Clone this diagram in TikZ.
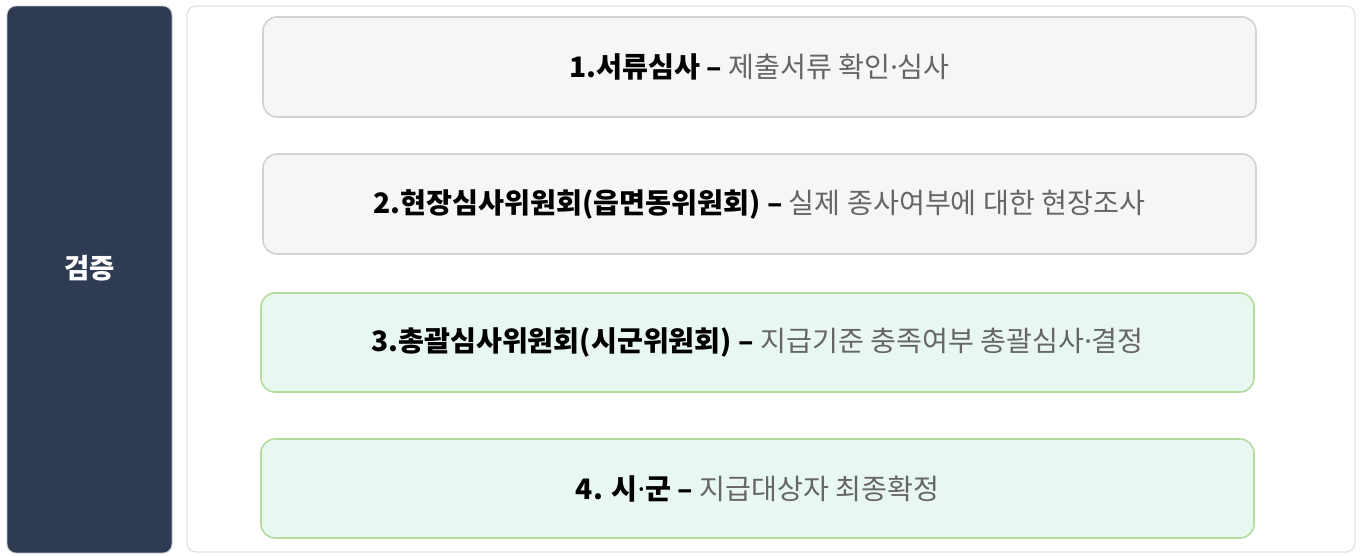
\documentclass[tikz,border=0pt]{standalone}
\usepackage{fontspec}
\newfontfamily\kr{Noto Sans CJK KR}
\newfontfamily\lat{Noto Sans}
\newcommand{\mdot}{{\lat ·}}
\definecolor{navy}{HTML}{2F3B52}
\definecolor{outerline}{HTML}{E2E2E2}
\definecolor{grayfill}{HTML}{F5F6F8}
\definecolor{grayline}{HTML}{D2D2D4}
\definecolor{greenfill}{HTML}{E8F7EF}
\definecolor{greenline}{HTML}{B3DC9E}
\definecolor{desc}{HTML}{666666}
\begin{document}
\begin{tikzpicture}[x=1pt,y=-1pt,
  stepbox/.style={draw=grayline,fill=grayfill,line width=1.6pt,rounded corners=14pt},
  greenbox/.style={draw=greenline,fill=greenfill,line width=1.6pt,rounded corners=14pt},
  lbl/.style={font=\kr\fontsize{28.2}{32}\selectfont,anchor=center,inner sep=0pt}]
\useasboundingbox (0,0) rectangle (1362,555);
\fill[white] (0,0) rectangle (1362,555);
\node[draw=white!70!navy,fill=navy,line width=0.8pt,rounded corners=9pt,minimum width=165pt,minimum height=547pt,inner sep=0pt] (side) at (89.5,279.5) {};
\node[font=\kr\bfseries\fontsize{27.5}{32}\selectfont,text=white] (sidel) at (89.5,268) {검증};
\node[draw=outerline,fill=white,line width=1.2pt,rounded corners=9pt,minimum width=1168pt,minimum height=546pt,inner sep=0pt] (outer) at (771,279) {};
\node[stepbox,minimum width=993pt,minimum height=100pt,inner sep=0pt] (b1) at (759.5,67) {};
\node[stepbox,minimum width=993pt,minimum height=100pt,inner sep=0pt] (b2) at (759.5,204) {};
\node[greenbox,minimum width=993pt,minimum height=99pt,inner sep=0pt] (b3) at (757.5,342.5) {};
\node[greenbox,minimum width=993pt,minimum height=99pt,inner sep=0pt] (b4) at (757.5,488.5) {};
\node[lbl] (t1) at (b1.center) {{\bfseries 1.서류심사 –} \textcolor{desc}{제출서류 확인\mdot 심사}};
\node[lbl] (t2) at (b2.center) {{\bfseries 2.현장심사위원회(읍면동위원회) –} \textcolor{desc}{실제 종사여부에 대한 현장조사}};
\node[lbl] (t3) at (b3.center) {{\bfseries 3.총괄심사위원회(시군위원회) –} \textcolor{desc}{지급기준 충족여부 총괄심사\mdot 결정}};
\node[lbl] (t4) at (b4.center) {{\bfseries 4. 시\mdot 군 –} \textcolor{desc}{지급대상자 최종확정}};
\end{tikzpicture}
\end{document}
